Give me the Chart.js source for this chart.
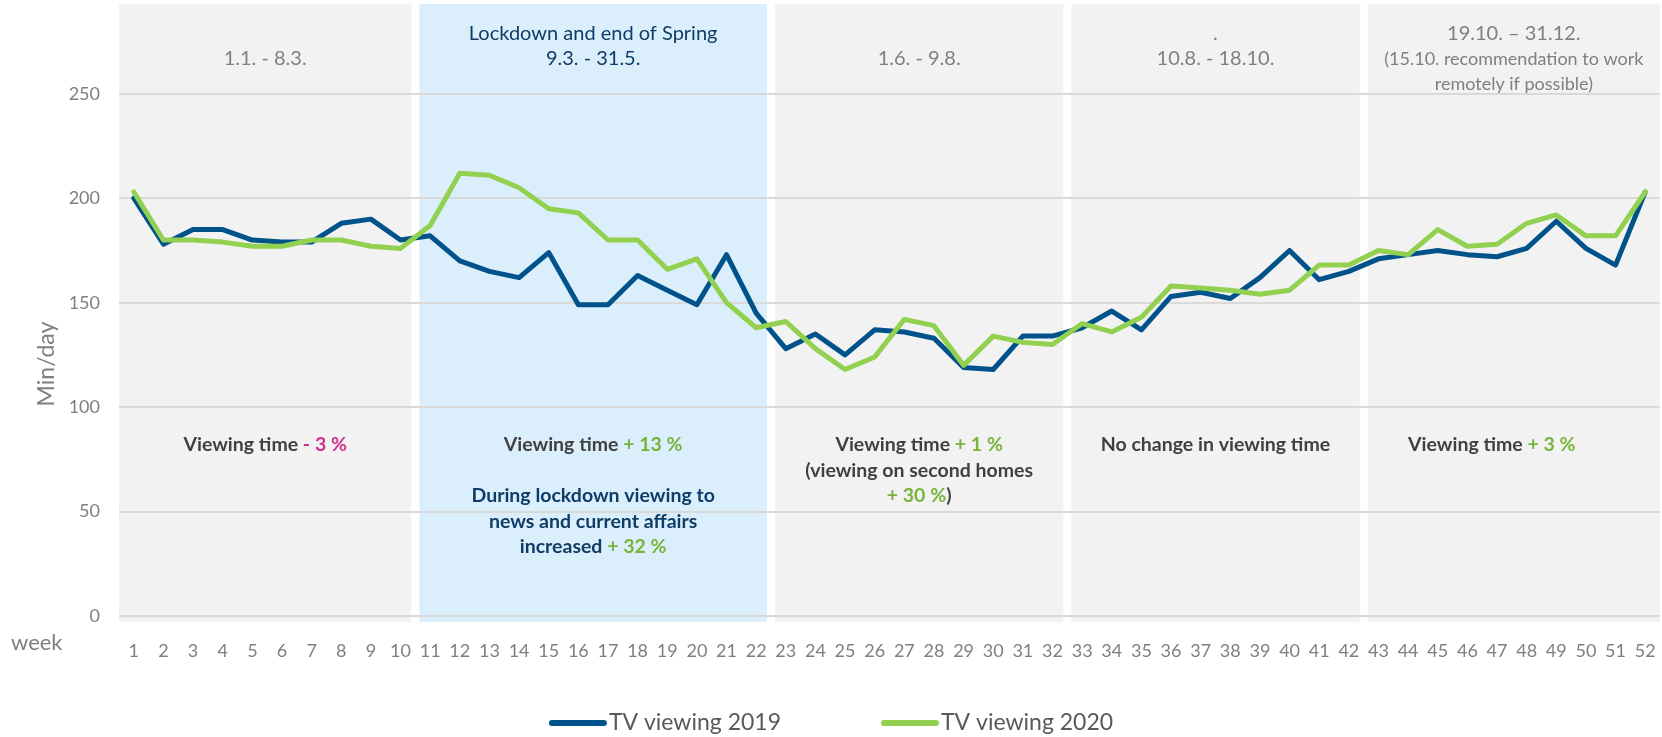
<!DOCTYPE html>
<html>
<head>
<meta charset="utf-8">
<script src="https://cdn.jsdelivr.net/npm/chart.js@4/dist/chart.umd.min.js"></script>
<style>
  html, body { margin: 0; padding: 0; background: #fff; }
  #wrap { width: 1662px; height: 737px; }
</style>
</head>
<body>
<div id="wrap"><canvas id="tvChart"></canvas></div>
<script>
// weeks of the year
const weeks = ["1","2","3","4","5","6","7","8","9","10","11","12","13","14","15","16","17","18","19","20",
  "21","22","23","24","25","26","27","28","29","30","31","32","33","34","35","36","37","38","39","40",
  "41","42","43","44","45","46","47","48","49","50","51","52"];

// minutes per day
const viewing2019 = [200,178,185,185,180,179,179,188,190,180, 182,170,165,162,174,149,149,163,156,149,
  173,145,128,135,125,137,136,133,119,118, 134,134,138,146,137,153,155,152,162,175,
  161,165,171,173,175,173,172,176,189,176, 168,203];
const viewing2020 = [203,180,180,179,177,177,180,180,177,176, 187,212,211,205,195,193,180,180,166,171,
  150,138,141,128,118,124,142,139,120,134, 131,130,140,136,143,158,157,156,154,156,
  168,168,175,173,185,177,178,188,192,182, 182,203];

const yTicks = [0, 50, 100, 150, 200, 250];

// periods (first and last week)
const periodStart = [1, 11, 23, 33, 43];
const periodEnd = [10, 22, 32, 42, 52];
const periodTitles = [
  ["", "1.1. - 8.3."],
  ["Lockdown and end of Spring", "9.3. - 31.5."],
  ["", "1.6. - 9.8."],
  [".", "10.8. - 18.10."],
  ["19.10. – 31.12.", "(15.10. recommendation to work", "remotely if possible)"]
];

const GRAY = "#7f7f7f", DARK = "#404040", NAVY = "#0f3d68", GREEN = "#78b43c", PINK = "#d12f8c";

const periodNotes = [
  [[["Viewing time ", DARK], ["- 3 %", PINK]]],
  [[["Viewing time ", DARK], ["+ 13 %", GREEN]], null,
   [["During lockdown viewing to", NAVY]],
   [["news and current affairs", NAVY]],
   [["increased ", NAVY], ["+ 32 %", GREEN]]],
  [[["Viewing time ", DARK], ["+ 1 %", GREEN]],
   [["(viewing on second homes", DARK]],
   [["+ 30 %", GREEN], [")", DARK]]],
  [[["No change in viewing time", DARK]]],
  [[["Viewing time ", DARK], ["+ 3 %", GREEN]]]
];

Chart.defaults.font.family = "Lato, 'Open Sans', sans-serif";

function drawSegments(ctx, segs, cx, y) {
  const total = segs.reduce((w, s) => w + ctx.measureText(s[0]).width, 0);
  let x = cx - total / 2;
  segs.forEach(([t, c]) => {
    ctx.fillStyle = c;
    ctx.fillText(t, x, y);
    x += ctx.measureText(t).width;
  });
}

function bandEdges(x, i) {
  const half = (x.getPixelForValue(1) - x.getPixelForValue(0)) / 2;
  let left = x.getPixelForValue(periodStart[i] - 1) - half;
  let right = x.getPixelForValue(periodEnd[i] - 1) + half;
  if (i > 0) left += 4;
  if (i < periodStart.length - 1) right -= 4;
  return [left, right];
}

const periodPlugin = {
  id: "periods",
  beforeDraw(chart) {
    const { ctx, chartArea, scales: { x } } = chart;
    ctx.save();
    periodStart.forEach((s, i) => {
      const [l, r] = bandEdges(x, i);
      ctx.fillStyle = i === 1 ? "#dbeefb" : "#f2f2f2";
      ctx.fillRect(l, chartArea.top, r - l, chartArea.bottom - chartArea.top + 6);
    });
    ctx.restore();
  },
  afterDraw(chart) {
    const { ctx, scales: { x } } = chart;
    ctx.save();
    ctx.textBaseline = "middle";
    ctx.textAlign = "left";

    periodStart.forEach((s, i) => {
      const [l, r] = bandEdges(x, i);
      const cx = (l + r) / 2;
      periodTitles[i].forEach((t, j) => {
        ctx.font = (j === 2 || (i === 4 && j === 1)) ? "18px Lato" : "20px Lato";
        drawSegments(ctx, [[t, i === 1 ? NAVY : GRAY]], cx, 34 + j * 25);
      });

      ctx.font = "bold 19.5px Lato";
      const noteX = i === 4 ? cx - 22 : cx;
      periodNotes[i].forEach((line, j) => {
        if (!line) return;
        drawSegments(ctx, line, noteX, 445 + j * 25.5);
      });
    });

    // axis captions
    ctx.fillStyle = GRAY;
    ctx.font = "22px Lato";
    ctx.fillText("week", 11, 643);
    ctx.translate(47, 364);
    ctx.rotate(-Math.PI / 2);
    ctx.font = "23px Lato";
    ctx.textAlign = "center";
    ctx.fillText("Min/day", 0, 0);
    ctx.restore();

    // legend
    ctx.save();
    ctx.font = "23px Lato";
    ctx.textBaseline = "middle";
    const lineLen = 58, gap = 2, spacing = 100;
    const items = chart.data.datasets;
    const widths = items.map(d => lineLen + gap + ctx.measureText(d.label).width);
    const total = widths.reduce((a, b) => a + b, 0) + spacing * (items.length - 1);
    let lx = (chart.width - total) / 2;
    const ly = 723;
    items.forEach((d, i) => {
      ctx.strokeStyle = d.borderColor;
      ctx.lineWidth = 6;
      ctx.lineCap = "round";
      ctx.beginPath();
      ctx.moveTo(lx + 3, ly);
      ctx.lineTo(lx + lineLen - 3, ly);
      ctx.stroke();
      ctx.fillStyle = "#595959";
      ctx.fillText(d.label, lx + lineLen + gap, ly);
      lx += widths[i] + spacing;
    });
    ctx.restore();
  }
};

new Chart(document.getElementById("tvChart").getContext("2d"), {
  type: "line",
  data: {
    labels: weeks,
    datasets: [
      {
        label: "TV viewing 2019",
        data: viewing2019,
        borderColor: "#00538a",
        borderWidth: 5,
        order: 1
      },
      {
        label: "TV viewing 2020",
        data: viewing2020,
        borderColor: "#92d050",
        borderWidth: 5,
        order: 0
      }
    ]
  },
  options: {
    responsive: true,
    maintainAspectRatio: false,
    animation: false,
    layout: { padding: { top: 4, right: 2, left: 0, bottom: 0 } },
    elements: {
      point: { radius: 0 },
      line: { tension: 0, borderCapStyle: "round", borderJoinStyle: "round" }
    },
    plugins: {
      legend: { display: false },
      tooltip: { enabled: false }
    },
    scales: {
      x: {
        offset: true,
        grid: { display: false },
        border: { display: false },
        ticks: { color: GRAY, font: { size: 18 }, padding: 16, maxRotation: 0, autoSkip: false },
        afterFit: s => { s.height = 121; s.paddingLeft = 0; s.paddingRight = 0; }
      },
      y: {
        min: 0,
        max: 293,
        grid: { color: "#d9d9d9", lineWidth: 2, drawTicks: false },
        border: { display: false },
        ticks: { color: GRAY, font: { size: 18 }, padding: 19 },
        afterBuildTicks: s => { s.ticks = yTicks.map(v => ({ value: v })); },
        afterFit: s => { s.width = 119; s.paddingTop = 0; s.paddingBottom = 0; }
      }
    }
  },
  plugins: [periodPlugin]
});
</script>
</body>
</html>
